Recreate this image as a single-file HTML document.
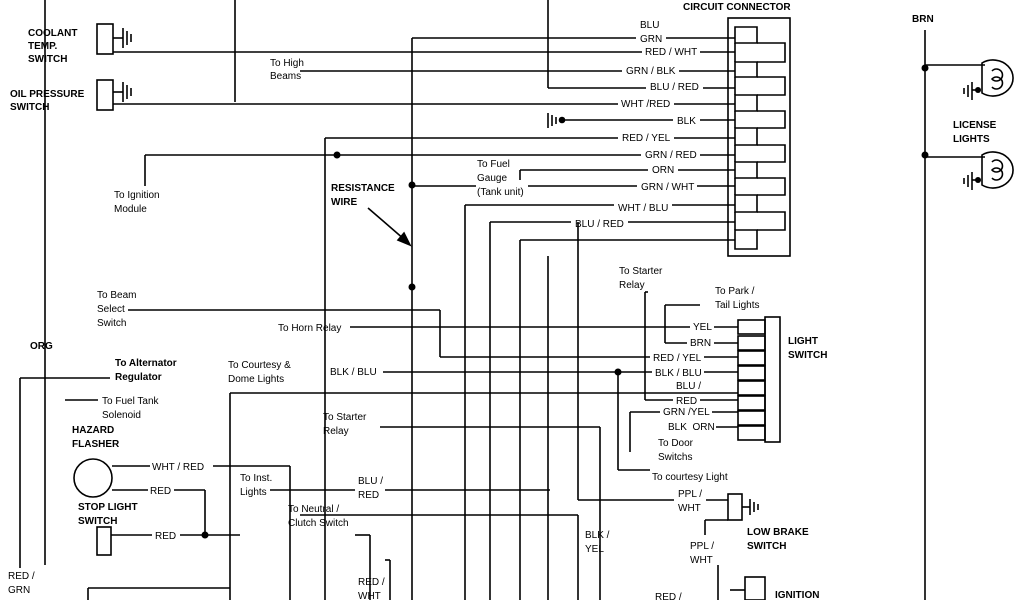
<!DOCTYPE html>
<html><head><meta charset="utf-8"><style>
html,body{margin:0;padding:0;background:#fff;}
svg{display:block}
text{font-family:"Liberation Sans",Arial,sans-serif;font-size:10px;fill:#000;}
.b{font-weight:bold}
</style></head><body>
<svg width="1024" height="600" viewBox="0 0 1024 600" xmlns="http://www.w3.org/2000/svg">
<g stroke="#000" stroke-width="1.6" fill="none">
<line x1="45" y1="0" x2="45" y2="565"/>
<line x1="20" y1="378" x2="20" y2="568"/>
<line x1="20" y1="378" x2="110" y2="378"/>
<line x1="235" y1="0" x2="235" y2="102"/>
<rect x="97" y="24" width="16" height="30"/>
<line x1="113" y1="38" x2="123" y2="38"/>
<line x1="123" y1="28" x2="123" y2="48"/><line x1="127" y1="31" x2="127" y2="45"/><line x1="131" y1="34" x2="131" y2="42"/>
<line x1="113" y1="52" x2="642" y2="52"/><line x1="700" y1="52" x2="735" y2="52"/>
<rect x="97" y="80" width="16" height="30"/>
<line x1="113" y1="92" x2="123" y2="92"/>
<line x1="123" y1="82" x2="123" y2="102"/><line x1="127" y1="85" x2="127" y2="99"/><line x1="131" y1="88" x2="131" y2="96"/>
<line x1="113" y1="104" x2="618" y2="104"/><line x1="674" y1="104" x2="735" y2="104"/>
<line x1="412" y1="38" x2="636" y2="38"/><line x1="666" y1="38" x2="735" y2="38"/>
<line x1="412" y1="38" x2="412" y2="600"/>
<line x1="548" y1="0" x2="548" y2="88"/>
<line x1="548" y1="88" x2="646" y2="88"/><line x1="703" y1="88" x2="735" y2="88"/>
<line x1="300" y1="71" x2="622" y2="71"/><line x1="679" y1="71" x2="735" y2="71"/>
<line x1="560" y1="120" x2="673" y2="120"/><line x1="700" y1="120" x2="735" y2="120"/>
<line x1="325" y1="138" x2="618" y2="138"/><line x1="674" y1="138" x2="735" y2="138"/>
<line x1="325" y1="138" x2="325" y2="600"/>
<line x1="145" y1="155" x2="641" y2="155"/><line x1="700" y1="155" x2="735" y2="155"/>
<line x1="145" y1="155" x2="145" y2="186"/>
<line x1="520" y1="170" x2="648" y2="170"/><line x1="678" y1="170" x2="735" y2="170"/>
<line x1="520" y1="170" x2="520" y2="180"/>
<line x1="412" y1="186" x2="476" y2="186"/><line x1="528" y1="186" x2="637" y2="186"/><line x1="697" y1="186" x2="735" y2="186"/>
<line x1="465" y1="205" x2="614" y2="205"/><line x1="672" y1="205" x2="735" y2="205"/>
<line x1="465" y1="205" x2="465" y2="600"/>
<line x1="490" y1="222" x2="571" y2="222"/><line x1="628" y1="222" x2="735" y2="222"/>
<line x1="490" y1="222" x2="490" y2="600"/>
<line x1="520" y1="240" x2="735" y2="240"/>
<line x1="520" y1="240" x2="520" y2="600"/>
<line x1="548" y1="256" x2="548" y2="600"/>
<line x1="578" y1="222" x2="578" y2="500"/>
<line x1="578" y1="500" x2="674" y2="500"/><line x1="706" y1="500" x2="728" y2="500"/>
<line x1="548" y1="113" x2="548" y2="128"/><line x1="552" y1="115" x2="552" y2="126"/><line x1="556" y1="117" x2="556" y2="124"/>
<circle cx="562" cy="120" r="2.5" fill="#000"/>
<rect x="728" y="18" width="62" height="238"/>
<path d="M735,27 h22 v16 h-22 z M735,62 h22 v15 h-22 z M735,95 h22 v16 h-22 z M735,128 h22 v17 h-22 z M735,162 h22 v16 h-22 z M735,195 h22 v17 h-22 z M735,230 h22 v19 h-22 z"/>
<path d="M735,43 v19 M757,43 h28 v19 h-28 M735,77 v18 M757,77 h28 v18 h-28 M735,111 v17 M757,111 h28 v17 h-28 M735,145 v17 M757,145 h28 v17 h-28 M735,178 v17 M757,178 h28 v17 h-28 M735,212 v18 M757,212 h28 v18 h-28"/>
<line x1="368" y1="208" x2="405" y2="240"/>
<polygon points="410,245 398,240 404,233" fill="#000"/>
<line x1="128" y1="310" x2="440" y2="310"/>
<line x1="440" y1="310" x2="440" y2="357"/>
<line x1="440" y1="357" x2="650" y2="357"/><line x1="704" y1="357" x2="738" y2="357"/>
<line x1="350" y1="327" x2="690" y2="327"/><line x1="714" y1="327" x2="738" y2="327"/>
<line x1="665" y1="305" x2="665" y2="343"/>
<line x1="665" y1="305" x2="700" y2="305"/>
<line x1="665" y1="343" x2="687" y2="343"/><line x1="714" y1="343" x2="738" y2="343"/>
<line x1="645" y1="292" x2="645" y2="400"/>
<line x1="645" y1="292" x2="648" y2="292"/>
<line x1="383" y1="372" x2="652" y2="372"/><line x1="704" y1="372" x2="738" y2="372"/>
<line x1="618" y1="372" x2="618" y2="470"/>
<line x1="618" y1="470" x2="650" y2="470"/>
<line x1="230" y1="393" x2="738" y2="393"/>
<line x1="230" y1="393" x2="230" y2="600"/>
<line x1="630" y1="412" x2="660" y2="412"/><line x1="712" y1="412" x2="738" y2="412"/>
<line x1="630" y1="412" x2="630" y2="452"/>
<line x1="645" y1="400" x2="673" y2="400"/><line x1="700" y1="400" x2="738" y2="400"/>
<line x1="716" y1="427" x2="738" y2="427"/>
<line x1="380" y1="427" x2="600" y2="427"/>
<line x1="600" y1="427" x2="600" y2="600"/>
<line x1="65" y1="400" x2="98" y2="400"/>
<rect x="765" y="317" width="15" height="125"/>
<rect x="738" y="320" width="27" height="14"/><rect x="738" y="336" width="27" height="14"/>
<rect x="738" y="351" width="27" height="14"/><rect x="738" y="366" width="27" height="14"/>
<rect x="738" y="381" width="27" height="14"/><rect x="738" y="396" width="27" height="14"/>
<rect x="738" y="411" width="27" height="14"/><rect x="738" y="426" width="27" height="14"/>
<circle cx="93" cy="478" r="19"/>
<line x1="112" y1="466" x2="150" y2="466"/><line x1="213" y1="466" x2="290" y2="466"/>
<line x1="290" y1="466" x2="290" y2="600"/>
<line x1="112" y1="490" x2="148" y2="490"/><line x1="174" y1="490" x2="205" y2="490"/>
<line x1="205" y1="490" x2="205" y2="535"/>
<line x1="270" y1="490" x2="355" y2="490"/><line x1="385" y1="490" x2="550" y2="490"/>
<line x1="300" y1="515" x2="578" y2="515"/>
<line x1="578" y1="515" x2="578" y2="600"/>
<line x1="355" y1="535" x2="370" y2="535"/>
<line x1="370" y1="535" x2="370" y2="600"/>
<line x1="385" y1="560" x2="390" y2="560"/>
<line x1="390" y1="560" x2="390" y2="600"/>
<rect x="97" y="527" width="14" height="28"/>
<line x1="111" y1="535" x2="152" y2="535"/><line x1="180" y1="535" x2="240" y2="535"/>
<line x1="88" y1="588" x2="88" y2="600"/><line x1="88" y1="588" x2="230" y2="588"/>
<rect x="728" y="494" width="14" height="26"/>
<line x1="742" y1="507" x2="750" y2="507"/>
<line x1="750" y1="499" x2="750" y2="515"/><line x1="754" y1="502" x2="754" y2="512"/><line x1="758" y1="504" x2="758" y2="510"/>
<line x1="728" y1="520" x2="705" y2="520"/><line x1="705" y1="520" x2="705" y2="535"/>
<line x1="718" y1="565" x2="718" y2="600"/>
<rect x="745" y="577" width="20" height="23"/>
<line x1="730" y1="590" x2="745" y2="590"/>
<line x1="925" y1="30" x2="925" y2="600"/>
<line x1="925" y1="65" x2="985" y2="65"/>
<line x1="925" y1="157" x2="985" y2="157"/>
<path d="M982,63 a20,18 0 1,1 0,30 z"/>
<path d="M992,71 a6,6 0 1,1 0,8 a6,6 0 1,1 0,8"/>
<line x1="980" y1="90" x2="972" y2="90"/>
<line x1="972" y1="82" x2="972" y2="100"/><line x1="968" y1="85" x2="968" y2="97"/><line x1="964" y1="88" x2="964" y2="94"/>
<path d="M982,155 a20,18 0 1,1 0,30 z"/>
<path d="M992,162 a6,6 0 1,1 0,8 a6,6 0 1,1 0,8"/>
<line x1="980" y1="180" x2="972" y2="180"/>
<line x1="972" y1="172" x2="972" y2="190"/><line x1="968" y1="175" x2="968" y2="187"/><line x1="964" y1="178" x2="964" y2="184"/>
</g>
<g fill="#000">
<circle cx="337" cy="155" r="3.5"/><circle cx="412" cy="185" r="3.5"/><circle cx="412" cy="287" r="3.5"/>
<circle cx="618" cy="372" r="3.5"/><circle cx="205" cy="535" r="3.5"/>
<circle cx="925" cy="68" r="3.5"/><circle cx="925" cy="155" r="3.5"/>
<circle cx="978" cy="90" r="3"/><circle cx="978" cy="180" r="3"/>
</g>
<g>
<text x="28" y="36" class="b">COOLANT</text><text x="28" y="49" class="b">TEMP.</text><text x="28" y="62" class="b">SWITCH</text>
<text x="10" y="97" class="b">OIL PRESSURE</text><text x="10" y="110" class="b">SWITCH</text>
<text x="270" y="66">To High</text><text x="270" y="79">Beams</text>
<text x="683" y="10" class="b">CIRCUIT CONNECTOR</text>
<text x="640" y="28">BLU</text><text x="640" y="42">GRN</text><text x="645" y="55">RED / WHT</text>
<text x="626" y="74">GRN / BLK</text><text x="650" y="90">BLU / RED</text><text x="621" y="107">WHT /RED</text>
<text x="677" y="124">BLK</text><text x="622" y="141">RED / YEL</text><text x="645" y="158">GRN / RED</text>
<text x="652" y="173">ORN</text><text x="641" y="190">GRN / WHT</text><text x="618" y="211">WHT / BLU</text>
<text x="575" y="227">BLU / RED</text>
<text x="477" y="167">To Fuel</text><text x="477" y="181">Gauge</text><text x="477" y="195">(Tank unit)</text>
<text x="114" y="198">To Ignition</text><text x="114" y="212">Module</text>
<text x="331" y="191" class="b">RESISTANCE</text><text x="331" y="205" class="b">WIRE</text>
<text x="912" y="22" class="b">BRN</text>
<text x="953" y="128" class="b">LICENSE</text><text x="953" y="142" class="b">LIGHTS</text>
<text x="619" y="274">To Starter</text><text x="619" y="288">Relay</text>
<text x="715" y="294">To Park /</text><text x="715" y="308">Tail Lights</text>
<text x="97" y="298">To Beam</text><text x="97" y="312">Select</text><text x="97" y="326">Switch</text>
<text x="278" y="331">To Horn Relay</text>
<text x="693" y="330">YEL</text><text x="690" y="346">BRN</text><text x="653" y="361">RED / YEL</text>
<text x="655" y="376">BLK / BLU</text><text x="676" y="389">BLU /</text><text x="676" y="404">RED</text>
<text x="663" y="415">GRN /YEL</text><text x="668" y="430">BLK&#160; ORN</text>
<text x="788" y="344" class="b">LIGHT</text><text x="788" y="358" class="b">SWITCH</text>
<text x="30" y="349" class="b">ORG</text>
<text x="115" y="366" class="b">To Alternator</text><text x="115" y="380" class="b">Regulator</text>
<text x="228" y="368">To Courtesy &amp;</text><text x="228" y="382">Dome Lights</text>
<text x="330" y="375">BLK / BLU</text>
<text x="102" y="404">To Fuel Tank</text><text x="102" y="418">Solenoid</text>
<text x="72" y="433" class="b">HAZARD</text><text x="72" y="447" class="b">FLASHER</text>
<text x="323" y="420">To Starter</text><text x="323" y="434">Relay</text>
<text x="658" y="446">To Door</text><text x="658" y="460">Switchs</text>
<text x="152" y="470">WHT / RED</text>
<text x="240" y="481">To Inst.</text><text x="240" y="495">Lights</text>
<text x="652" y="480">To courtesy Light</text>
<text x="150" y="494">RED</text>
<text x="358" y="484">BLU /</text><text x="358" y="498">RED</text>
<text x="678" y="497">PPL /</text><text x="678" y="511">WHT</text>
<text x="78" y="510" class="b">STOP LIGHT</text><text x="78" y="524" class="b">SWITCH</text>
<text x="288" y="512">To Neutral /</text><text x="288" y="526">Clutch Switch</text>
<text x="747" y="535" class="b">LOW BRAKE</text><text x="747" y="549" class="b">SWITCH</text>
<text x="155" y="539">RED</text>
<text x="585" y="538">BLK /</text><text x="585" y="552">YEL</text>
<text x="690" y="549">PPL /</text><text x="690" y="563">WHT</text>
<text x="8" y="579">RED /</text><text x="8" y="593">GRN</text>
<text x="358" y="585">RED /</text><text x="358" y="599">WHT</text>
<text x="655" y="600">RED /</text>
<text x="775" y="598" class="b">IGNITION</text>
</g>
</svg>
</body></html>
